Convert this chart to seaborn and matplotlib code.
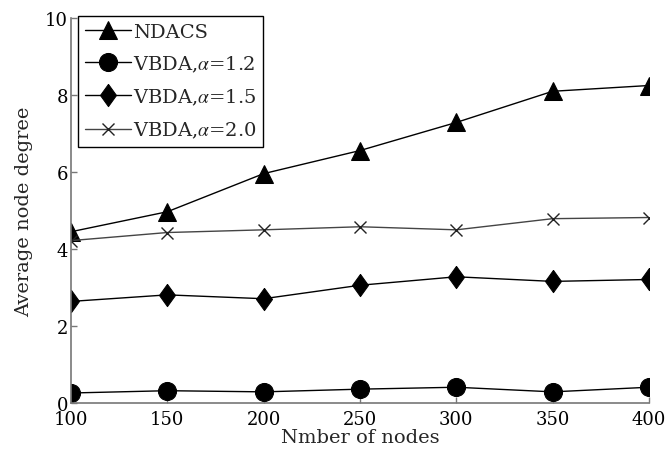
import numpy as np
import pandas as pd
import matplotlib
matplotlib.use("Agg")
import matplotlib.pyplot as plt
import seaborn as sns

# values
nodes = [100, 150, 200, 250, 300, 350, 400]
ndacs = [4.45, 4.97, 5.96, 6.56, 7.29, 8.10, 8.25]
vbda_12 = [0.26, 0.32, 0.29, 0.36, 0.41, 0.29, 0.41]
vbda_15 = [2.64, 2.81, 2.71, 3.06, 3.28, 3.16, 3.21]
vbda_20 = [4.22, 4.43, 4.50, 4.58, 4.50, 4.79, 4.82]
labels = ["NDACS", r"VBDA,$\alpha$=1.2", r"VBDA,$\alpha$=1.5", r"VBDA,$\alpha$=2.0"]
yticks = [0, 2, 4, 6, 8, 10]

sns.set_style("ticks")
plt.rcParams["font.family"] = ["DejaVu Serif"]
plt.rcParams["mathtext.fontset"] = "stix"

diamond = [(0, 1), (0.72, 0), (0, -1), (-0.72, 0), (0, 1)]
styles = [
    dict(marker="^", markersize=13, color="black", markeredgecolor="black", linewidth=1.0),
    dict(marker="o", markersize=13, color="black", markeredgecolor="black", linewidth=1.0),
    dict(marker=diamond, markersize=16, color="black", markeredgecolor="black", linewidth=1.0),
    dict(marker="x", markersize=8, color="#444444", markeredgecolor="#222222",
         linewidth=1.0, markeredgewidth=1.0),
]

fig = plt.figure(figsize=(6.67, 4.56), dpi=100)
ax = fig.add_axes([0.1064, 0.114, 0.8666, 0.844])

for ys, lab, st in zip([ndacs, vbda_12, vbda_15, vbda_20], labels, styles):
    sns.lineplot(x=nodes, y=ys, ax=ax, label=lab, **st)

ax.set_xlim(100, 400)
ax.set_ylim(0, 10)
ax.set_xticks(nodes)
ax.set_yticks(yticks)
ax.tick_params(direction="in", length=4, width=1, color="#777777",
               labelsize=13, labelcolor="black")
ax.tick_params(axis="x", pad=5)
ax.tick_params(axis="y", pad=2)
for s in ["top", "right"]:
    ax.spines[s].set_visible(False)
for s in ["left", "bottom"]:
    ax.spines[s].set_color("#777777")
    ax.spines[s].set_linewidth(1.2)

ax.set_xlabel("Nmber of nodes", fontsize=14, labelpad=0)
ax.set_ylabel("Average node degree", fontsize=14, labelpad=9)

leg = ax.legend(loc="upper left", bbox_to_anchor=(0.012, 1.006), fontsize=14,
                frameon=True, fancybox=False, edgecolor="black", framealpha=1,
                handlelength=2.4, labelspacing=0.66, borderpad=0.35,
                handletextpad=0.1, borderaxespad=0)
leg.get_frame().set_linewidth(1.0)

fig.savefig("out.png", dpi=100)
